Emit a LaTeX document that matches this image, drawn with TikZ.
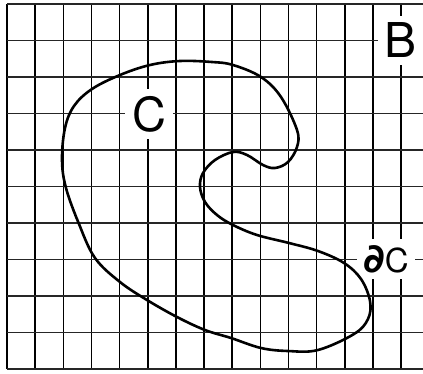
\documentclass[tikz,border=0pt]{standalone}
\usepackage{fontspec}
\setmainfont{TeX Gyre Heros}
\newfontfamily\symfont{DejaVu Sans}
\usetikzlibrary{positioning}

\begin{document}
\begin{tikzpicture}[x=1pt,y=-1pt,
    vline/.style={black,line width=1.6pt},
    hline/.style={black!85,line width=1.1pt},
    bnd/.style={black,line width=2.6pt,line join=round},
    lab/.style={fill=white,inner sep=7pt},
  ]
  \useasboundingbox (0,0) rectangle (423,373);
  \foreach \i in {0,...,14}
    \draw[vline] ({7+28.15*\i},4) -- ({7+28.15*\i},369);
  \foreach \j in {0,...,10}
    \draw[hline] (7,{4+36.5*\j}) -- (423,{4+36.5*\j});
  \node[lab,font=\fontsize{48}{48}\selectfont] (setB) at (401,40) {B};
  \node[lab,font=\fontsize{47}{47}\selectfont] (setC) at (149,114) {C};
  \node[lab,inner sep=6pt,font=\fontsize{33}{33}\selectfont] (bndC) at (386,259)
    {{\symfont\bfseries\fontsize{40}{40}\selectfont ∂}C};
  \draw[bnd] plot[smooth cycle,tension=0.6] coordinates {
      (62,160) (65,128) (74,106) (92,89) (120,75) (150,65) (180,61) (212,62)
      (233,65) (261,77) (281,97) (297,130) (297,147) (288,162)
      (275,168) (263,165) (247,155) (233,152) (215,160) (203,173)
      (200,187) (205,202) (217,215) (233,225) (257,235) (289,243)
      (318,251) (344,263) (361,279) (370,301) (368,319) (354,334)
      (318,350) (288,351) (261,348) (231,338) (205,330) (177,317)
      (147,300) (120,282) (95,258) (79,224) (66,188)};
\end{tikzpicture}
\end{document}
